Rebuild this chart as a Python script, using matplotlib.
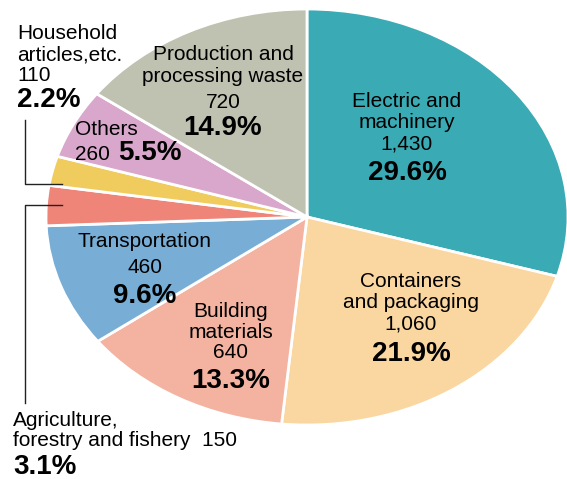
import matplotlib
matplotlib.use("Agg")
import matplotlib.pyplot as plt

# data
categories = ["Electric and\nmachinery", "Containers\nand packaging", "Building\nmaterials",
              "Transportation", "Agriculture,\nforestry and fishery", "Household\narticles,etc.",
              "Others", "Production and\nprocessing waste"]
values = [1430, 1060, 640, 460, 150, 110, 260, 720]
value_labels = ["1,430", "1,060", "640", "460", "150", "110", "260", "720"]
pct_labels = ["29.6%", "21.9%", "13.3%", "9.6%", "3.1%", "2.2%", "5.5%", "14.9%"]
colors = ["#3aabb5", "#fad6a0", "#f4b2a0", "#78aed6", "#ef8479", "#f0cc5f", "#d8a7cb", "#bfc1b1"]

W, H = 567, 479
fig = plt.figure(figsize=(W / 100, H / 100), dpi=100)

# pie drawn as an ellipse (center 307,217 ; rx 261 ; ry 208 in pixels)
cx, cy, rx, ry = 307, 217, 261, 208
ax = fig.add_axes([(cx - rx) / W, (H - cy - ry) / H, 2 * rx / W, 2 * ry / H])
ax.pie(values, colors=colors, startangle=90, counterclock=False,
       wedgeprops=dict(edgecolor="white", linewidth=2))
ax.set_aspect("auto")
ax.set_xlim(-1, 1)
ax.set_ylim(-1, 1)

# overlay in pixel coords for labels
ov = fig.add_axes([0, 0, 1, 1])
ov.set_xlim(0, W)
ov.set_ylim(H, 0)
ov.axis("off")
ov.patch.set_alpha(0)

reg = dict(fontsize=15, family=["Liberation Sans", "DejaVu Sans"], color="black")
bold = dict(fontsize=20, family=["Liberation Sans Narrow", "Liberation Sans", "DejaVu Sans"],
            weight="bold", color="black")

# centred blocks: (index, x, baselines of name lines, value baseline, pct baseline)
blocks = [
    (0, 407, [107, 128], 149, 180),
    (1, 411, [287, 308], 330, 361),
    (2, 231, [317, 338], 358, 388),
    (3, 145, [247], 273, 303),
    (7, 223, [60, 82], 108, 135),
]
for i, x, name_ys, vy, py in blocks:
    for line, y in zip(categories[i].split("\n"), name_ys):
        ov.text(x, y, line, ha="center", va="baseline", **reg)
    ov.text(x, vy, value_labels[i], ha="center", va="baseline", **reg)
    ov.text(x, py, pct_labels[i], ha="center", va="baseline", **bold)

# Others
ov.text(75, 135, categories[6], ha="left", va="baseline", **reg)
ov.text(75, 160, value_labels[6], ha="left", va="baseline", **reg)
ov.text(118, 160, pct_labels[6], ha="left", va="baseline", **bold)

# Household
ov.text(17, 39, categories[5].split("\n")[0], ha="left", va="baseline", **reg)
ov.text(17, 60, categories[5].split("\n")[1], ha="left", va="baseline", **reg)
ov.text(17, 81, value_labels[5], ha="left", va="baseline", **reg)
ov.text(17, 107, pct_labels[5], ha="left", va="baseline", **bold)

# Agriculture
ov.text(13, 426, categories[4].split("\n")[0], ha="left", va="baseline", **reg)
ov.text(13, 446, categories[4].split("\n")[1] + "  " + value_labels[4], ha="left", va="baseline", **reg)
ov.text(13, 474, pct_labels[4], ha="left", va="baseline", **bold)

# leader lines
ov.plot([25, 25, 62], [120, 184, 184], color="#222222", lw=1)
ov.plot([62, 25, 25], [205, 205, 403], color="#222222", lw=1)

fig.savefig("out.png", dpi=100)
